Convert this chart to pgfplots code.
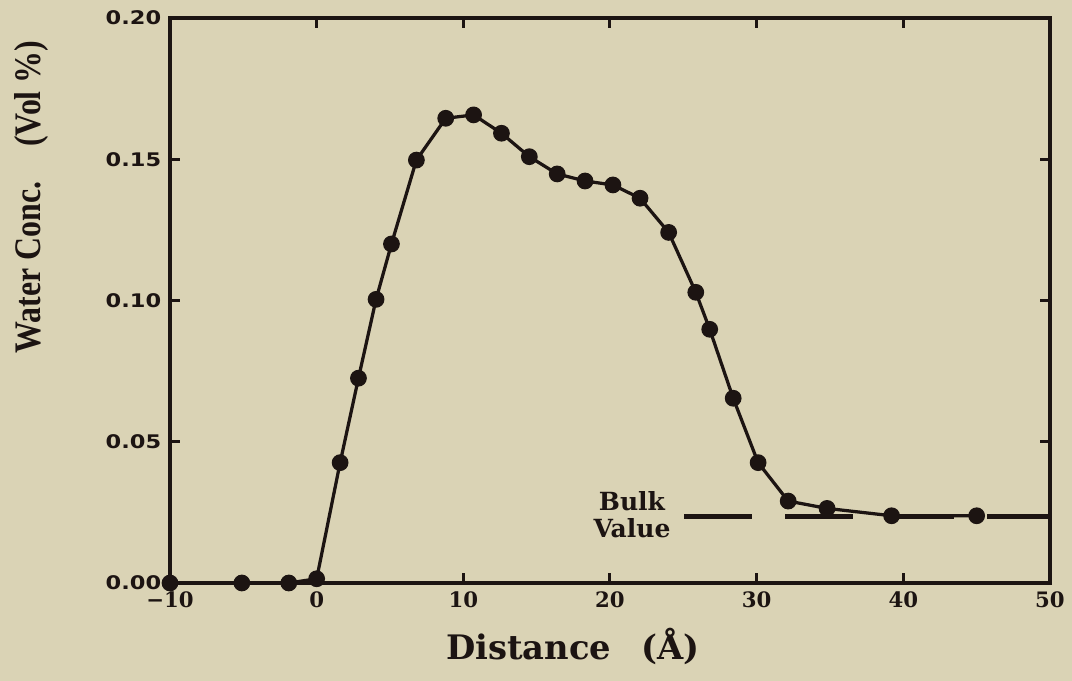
\documentclass[border=0pt]{standalone}
\usepackage{pgfplots}
\pgfplotsset{compat=1.18}
\usepackage{fontspec}
\setmainfont{DejaVu Serif}
\newfontfamily\ylabfont[FakeStretch=0.85]{Liberation Serif}
\newfontfamily\ytickfont[FakeStretch=1.2]{DejaVu Sans}
\definecolor{paper}{RGB}{218,211,181}
\definecolor{ink}{RGB}{28,20,18}

\begin{document}
\begin{tikzpicture}
% page: 1072x681 px at 0.4pt per px
\path[use as bounding box, fill=paper] (0,0) rectangle (428.8pt,272.4pt);
\begin{axis}[
    at={(68pt,39.2pt)}, anchor=south west,
    width=352pt, height=226pt, scale only axis,
    xmin=-10, xmax=50, ymin=0, ymax=0.20,
    xtick={-10,0,10,20,30,40,50},
    xticklabels={−10,0,10,20,30,40,50},
    ytick={0,0.05,0.10,0.15,0.20},
    yticklabels={0.00,0.05,0.10,0.15,0.20},
    tick align=inside, major tick length=4pt,
    axis line style={ink, line width=1.3pt},
    every tick/.style={ink, line width=1.2pt},
    xticklabel style={font=\bfseries\fontsize{8.5}{10}\selectfont, text=ink},
    yticklabel style={font=\ytickfont\bfseries\fontsize{7.5}{9}\selectfont, text=ink},
    xlabel={Distance\hspace{0.9em}(Å)},
    xlabel style={at={(axis description cs:0.458,-0.113)}, anchor=center,
        font=\bfseries\fontsize{13.5}{16}\selectfont, text=ink},
    ylabel={Water Conc.\hspace{14pt}(Vol \%)},
    ylabel style={at={(axis description cs:-0.157,0.683)}, anchor=center,
        font=\ylabfont\bfseries\fontsize{15}{17}\selectfont, text=ink},
    clip=false,
]
% bulk value reference
\addplot[ink, line width=2pt, dash pattern=on 27.2pt off 13.2pt] coordinates {
    (25.06,0.0235) (50,0.0235)
};
\addplot[ink, line width=1.3pt, mark=*, mark size=3.1pt,
    mark options={fill=ink, draw=ink, solid, line width=0.5pt}] coordinates {
    (-10,0)
    (-5.1,0)
    (-1.9,0)
    (0.0,0.0015)
    (1.6,0.0426)
    (2.85,0.0725)
    (4.05,0.1004)
    (5.1,0.1200)
    (6.8,0.1497)
    (8.8,0.1645)
    (10.7,0.1657)
    (12.6,0.1592)
    (14.5,0.1509)
    (16.4,0.1448)
    (18.3,0.1423)
    (20.2,0.1409)
    (22.05,0.1362)
    (24.0,0.1241)
    (25.85,0.1029)
    (26.8,0.0898)
    (28.4,0.0654)
    (30.1,0.0426)
    (32.15,0.0290)
    (34.8,0.0264)
    (39.2,0.0238)
    (45.0,0.0238)
};
\node[font=\bfseries\fontsize{10}{10.8}\selectfont, align=center, text=ink]
    at (axis cs:21.5,0.0241) {Bulk\\Value};
\end{axis}
\end{tikzpicture}
\end{document}
